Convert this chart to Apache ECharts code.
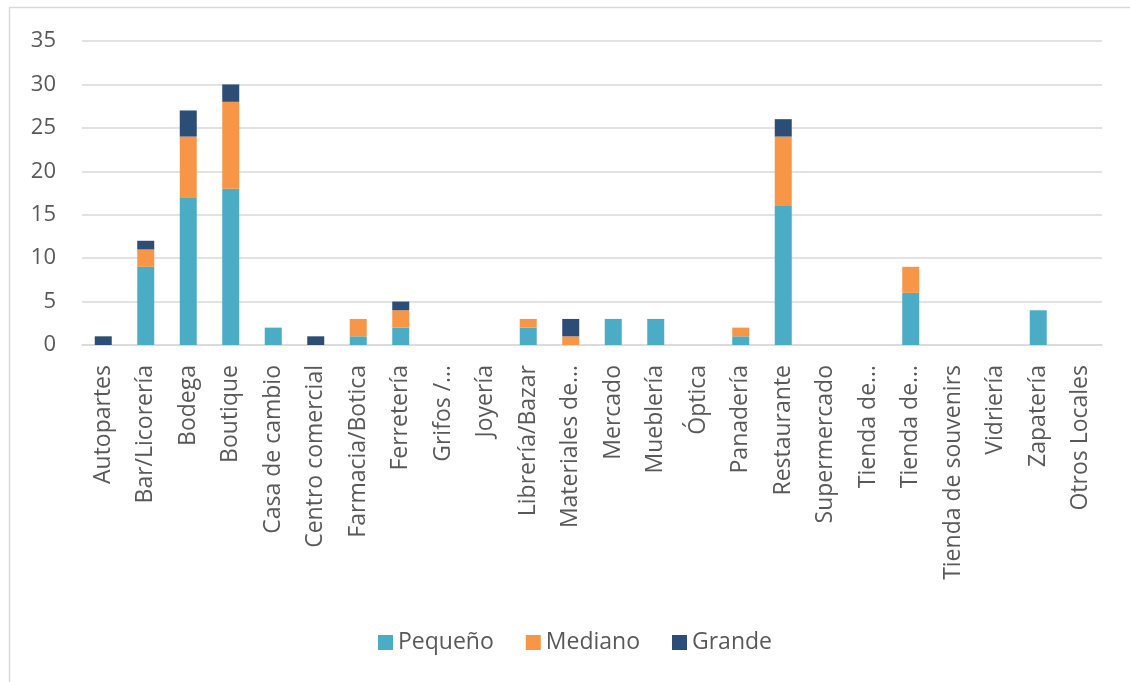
<!DOCTYPE html>
<html>
<head>
<meta charset="utf-8">
<script src="https://cdn.jsdelivr.net/npm/echarts@6/dist/echarts.min.js"></script>
<style>
html,body{margin:0;padding:0;background:#fff;}
#main{width:1130px;height:682px;}
</style>
</head>
<body>
<div id="main"></div>
<script>
const categories = ["Autopartes","Bar/Licorería","Bodega","Boutique","Casa de cambio","Centro comercial","Farmacia/Botica","Ferretería","Grifos /…","Joyería","Librería/Bazar","Materiales de…","Mercado","Mueblería","Óptica","Panadería","Restaurante","Supermercado","Tienda de…","Tienda de…","Tienda de souvenirs","Vidriería","Zapatería","Otros Locales"];
const pequeno = [0,9,17,18,2,0,1,2,0,0,2,0,3,3,0,1,16,0,0,6,0,0,4,0];
const mediano = [0,2,7,10,0,0,2,2,0,0,1,1,0,0,0,1,8,0,0,3,0,0,0,0];
const grande  = [1,1,3,2,0,1,0,1,0,0,0,2,0,0,0,0,2,0,0,0,0,0,0,0];
const seriesNames = ["Pequeño","Mediano","Grande"];
const yTicks = {min:0, max:35, interval:5};

const colors = ["#4BACC6","#F79646","#2C4D75"];
const font = "'Open Sans', 'Liberation Sans', sans-serif";
const chart = echarts.init(document.getElementById('main'));
chart.setOption({
  animation:false,
  color: colors,
  graphic: [{
    type:'rect', left:7, top:5, shape:{width:1300, height:800},
    style:{fill:'none', stroke:'#d9d9d9', lineWidth:1.5}, z:-1
  }],
  grid:{left:82, right:28, top:41, bottom:337, containLabel:false},
  legend:{
    data: seriesNames,
    left:373, top:626,
    icon:'rect', itemWidth:15, itemHeight:15, itemGap:32,
    textStyle:{color:'#595959', fontSize:23, fontFamily:font}
  },
  xAxis:{
    type:'category', data:categories,
    axisLine:{lineStyle:{color:'#d9d9d9', width:1.5}},
    axisTick:{show:false},
    axisLabel:{rotate:90, interval:0, margin:20, color:'#595959', fontSize:23, fontFamily:font}
  },
  yAxis:{
    type:'value', min:yTicks.min, max:yTicks.max, interval:yTicks.interval,
    axisLine:{show:false}, axisTick:{show:false},
    splitLine:{lineStyle:{color:'#d9d9d9', width:1.5}},
    axisLabel:{margin:26, color:'#595959', fontSize:22, fontFamily:font}
  },
  series:[
    {name:seriesNames[0], type:'bar', stack:'t', data:pequeno, barWidth:17},
    {name:seriesNames[1], type:'bar', stack:'t', data:mediano, barWidth:17},
    {name:seriesNames[2], type:'bar', stack:'t', data:grande, barWidth:17}
  ]
});
</script>
</body>
</html>
